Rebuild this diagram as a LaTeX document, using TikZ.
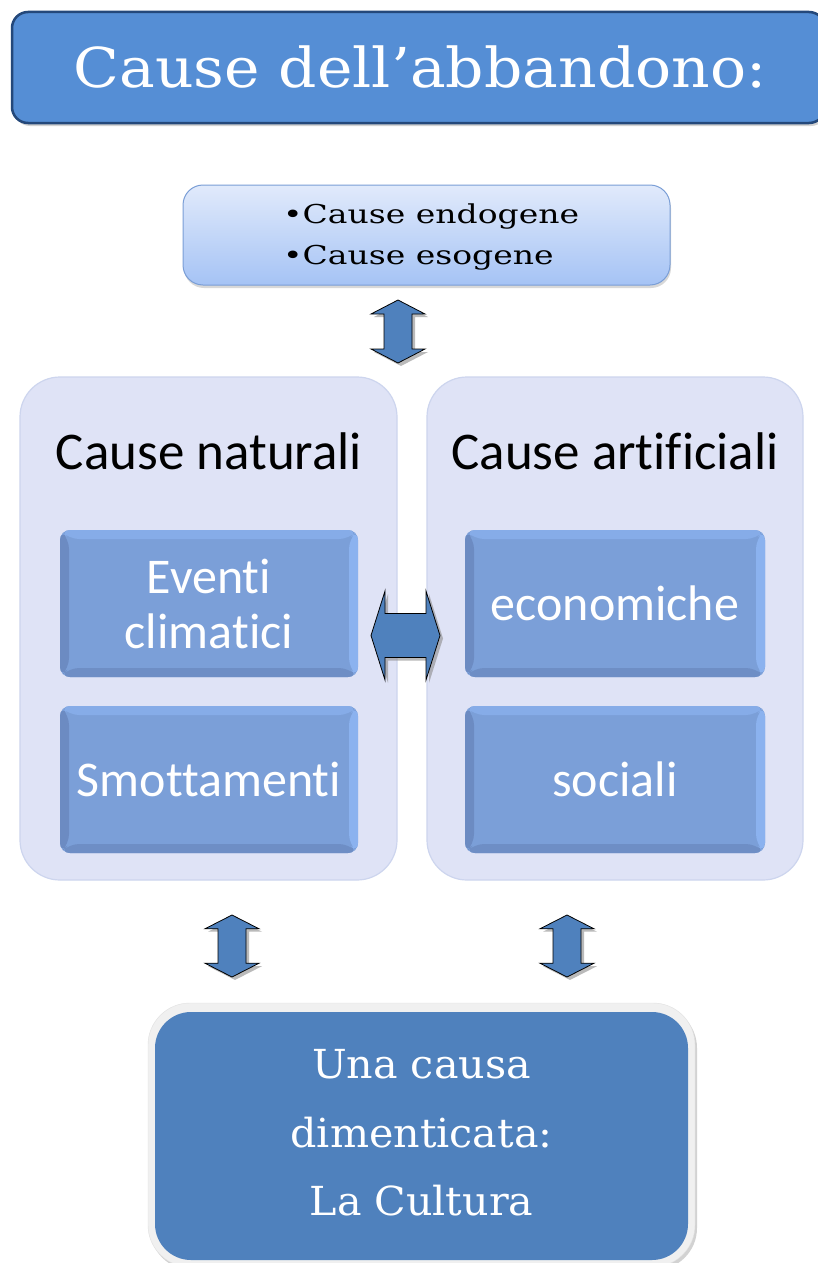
\documentclass[tikz,border=0pt]{standalone}
\usepackage{fontspec}
\setsansfont{Carlito}[Ligatures={NoCommon,TeX}]
\setmainfont{DejaVu Serif}
\usetikzlibrary{shadows,calc}
\definecolor{titleblue}{HTML}{558ED5}
\definecolor{titleedge}{HTML}{24487A}
\definecolor{toptop}{HTML}{E1EAFB}
\definecolor{topbot}{HTML}{A5C3F5}
\definecolor{topedge}{HTML}{7A9ED6}
\definecolor{panelfill}{HTML}{DFE3F6}
\definecolor{paneledge}{HTML}{CDD5EE}
\definecolor{innerblue}{HTML}{7B9FD8}
\definecolor{beveldark}{HTML}{6C8BC2}
\definecolor{bevellight}{HTML}{8BB2EF}
\definecolor{arrowblue}{HTML}{4F81BD}
\definecolor{cultblue}{HTML}{4F81BD}
\definecolor{frame}{HTML}{F0F0F0}
\tikzset{
  titlebox/.style={draw=titleedge, line width=2.5pt, fill=titleblue, rounded corners=16pt,
    text=white, drop shadow={shadow xshift=2pt, shadow yshift=-3pt, opacity=0.35}},
  topbox/.style={draw=topedge, line width=1pt, top color=toptop, bottom color=topbot,
    rounded corners=20pt, drop shadow={shadow xshift=1pt, shadow yshift=-3pt, opacity=0.3}},
  panel/.style={draw=paneledge, line width=1.2pt, fill=panelfill, rounded corners=40pt},
  innerbox/.style={fill=innerblue, rounded corners=10pt, text=white,
    font=\sffamily\fontsize{50}{55}\selectfont, align=center,
    path picture={
      \coordinate (NW) at (path picture bounding box.north west);
      \coordinate (NE) at (path picture bounding box.north east);
      \coordinate (SW) at (path picture bounding box.south west);
      \coordinate (SE) at (path picture bounding box.south east);
      \fill[beveldark] (NW) -- (SW) -- ([shift={(9pt,9pt)}]SW) -- ([shift={(9pt,-9pt)}]NW) -- cycle;
      \fill[beveldark!85!innerblue] (SW) -- (SE) -- ([shift={(-9pt,9pt)}]SE) -- ([shift={(9pt,9pt)}]SW) -- cycle;
      \fill[bevellight] (NE) -- (SE) -- ([shift={(-9pt,9pt)}]SE) -- ([shift={(-9pt,-9pt)}]NE) -- cycle;
      \fill[bevellight!70!innerblue] (NW) -- (NE) -- ([shift={(-9pt,-9pt)}]NE) -- ([shift={(9pt,-9pt)}]NW) -- cycle;
    }},
  heading/.style={font=\sffamily\fontsize{53}{60}\selectfont, text=black, anchor=base},
  toptxt/.style={anchor=base west, inner sep=0pt, font=\fontsize{26}{30}\selectfont},
  culttxt/.style={anchor=base, inner sep=0pt, text=white, font=\fontsize{40}{46}\selectfont},
  arrowshape/.style={fill=arrowblue, draw=black, line width=0.8pt, line join=miter},
  arrowshadow/.style={fill=black!45, opacity=0.6},
  vdarrow/.pic={
    \fill[arrowshadow, shift={(3,3)}] (0,0) -- (27,14) -- (14,14) -- (14,49) -- (27,49) -- (0,63) -- (-27,49) -- (-14,49) -- (-14,14) -- (-27,14) -- cycle;
    \path[arrowshape] (0,0) -- (27,14) -- (14,14) -- (14,49) -- (27,49) -- (0,63) -- (-27,49) -- (-14,49) -- (-14,14) -- (-27,14) -- cycle;
  },
  hdarrow/.pic={
    \fill[arrowshadow, shift={(3,3)}] (-34.5,0) -- (-20.5,-44.5) -- (-20.5,-22) -- (20.5,-22) -- (20.5,-44.5) -- (34.5,0) -- (20.5,44.5) -- (20.5,22) -- (-20.5,22) -- (-20.5,44.5) -- cycle;
    \path[arrowshape] (-34.5,0) -- (-20.5,-44.5) -- (-20.5,-22) -- (20.5,-22) -- (20.5,-44.5) -- (34.5,0) -- (20.5,44.5) -- (20.5,22) -- (-20.5,22) -- (-20.5,44.5) -- cycle;
  },
}
\begin{document}
\begin{tikzpicture}[x=1pt,y=-1pt]
\useasboundingbox (0,0) rectangle (817,1263);
\fill[white] (0,0) rectangle (817,1263);

% title
\node[titlebox, minimum width=813pt, minimum height=111pt, inner sep=0pt] (title) at (418.5,67.5) {};
\node[text=white, anchor=base, inner sep=0pt, font=\fontsize{55}{60}\selectfont] (titletext) at (420,87)
  {\scalebox{1.09}[1]{Cause dell’abbandono:}};

% top box
\node[topbox, minimum width=487pt, minimum height=100pt, inner sep=0pt] (top) at (426.5,235) {};
\node[toptxt] (endo) at (283,223) {\scalebox{1.27}[1]{•Cause endogene}};
\node[toptxt] (eso) at (283,264) {\scalebox{1.27}[1]{•Cause esogene}};

% panels
\node[panel, minimum width=377pt, minimum height=503pt] (natural) at (208.5,628.5) {};
\node[panel, minimum width=376pt, minimum height=503pt] (artificial) at (615,628.5) {};
\node[heading] (natlabel) at (209,469) {Cause naturali};
\node[heading] (artlabel) at (615,469) {Cause artificiali};

% inner boxes
\node[innerbox, minimum width=298pt, minimum height=147pt] (eventi) at (209,603.5) {Eventi\\climatici};
\node[innerbox, minimum width=298pt, minimum height=147pt] (smott) at (209,779.5) {Smottamenti};
\node[innerbox, minimum width=300pt, minimum height=147pt] (econ) at (615,603.5) {economiche};
\node[innerbox, minimum width=300pt, minimum height=147pt] (soc) at (615,779.5) {sociali};

% bottom box
\node[fill=frame, draw=black!12, rounded corners=42pt, minimum width=547pt, minimum height=264pt,
  drop shadow={shadow xshift=2pt, shadow yshift=-3pt, opacity=0.35}] (cultframe) at (421.5,1135) {};
\node[fill=cultblue, rounded corners=36pt, minimum width=533pt, minimum height=248pt] (culture) at (421.5,1136) {};
\node[culttxt] (cult1) at (421.5,1078) {\scalebox{1.03}[1]{Una causa}};
\node[culttxt] (cult2) at (421.5,1147) {\scalebox{1.03}[1]{dimenticata:}};
\node[culttxt] (cult3) at (421.5,1215) {\scalebox{1.03}[1]{La Cultura}};

% arrows
\pic at (398,300) {vdarrow};
\pic at (405.5,635.5) {hdarrow};
\pic[yscale=62/63] at (232,915) {vdarrow};
\pic[yscale=62/63] at (567,915) {vdarrow};
\end{tikzpicture}
\end{document}
